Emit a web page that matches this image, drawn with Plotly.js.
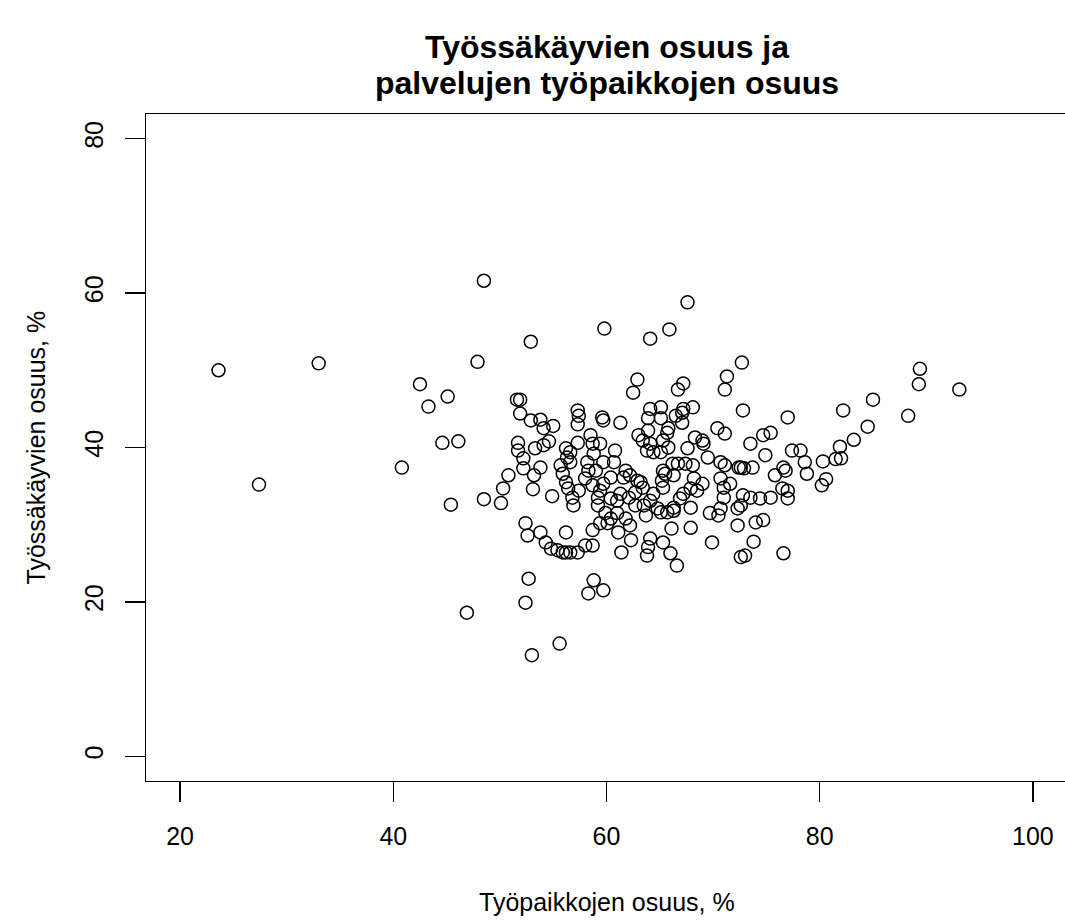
<!DOCTYPE html>
<html>
<head>
<meta charset="utf-8">
<script src="https://cdn.plot.ly/plotly-3.0.1.min.js"></script>
<style>
  html, body { margin: 0; padding: 0; background: #fff; overflow: hidden; }
  #chart { width: 1068px; height: 921px; }
</style>
</head>
<body>
<div id="chart"></div>
<script>
// Service-sector share of jobs (%) per municipality
const jobShare = [
  23.6, 27.4, 33.0, 40.8, 42.5, 43.3, 45.1, 44.6, 46.1, 45.4, 48.5, 47.9, 48.5, 46.9, 55.6, 53.0, 52.4, 52.7, 58.8, 58.3, 59.7,
  59.8, 52.9, 51.6, 51.9, 62.9, 62.5, 57.3, 67.6, 65.9, 64.1, 72.7, 71.3, 71.1, 67.2, 66.7, 64.1, 65.1, 67.2, 68.1, 72.8,
  89.4, 89.3, 93.1, 85.0, 82.2, 88.3, 84.5, 83.2, 81.9, 82.0, 81.5, 80.3, 80.6, 80.2,
  51.9, 52.9, 53.8, 54.1, 55.0, 57.4, 57.3, 59.6, 59.7, 51.7, 51.7, 52.2, 53.3, 54.1, 54.6, 57.3, 56.2, 56.6, 56.3, 55.7,
  56.6, 58.5, 58.7, 59.4, 58.8, 60.8, 58.2, 58.3, 59.0, 59.7, 60.7, 52.2, 53.2, 53.8, 50.8, 50.3, 53.1, 54.9, 55.9, 56.2,
  56.4, 57.4, 56.8, 58.0, 58.7, 59.4, 59.2, 59.7, 60.4, 60.4, 61.0, 50.1, 56.9, 59.2,
  61.3, 63.9, 65.1, 66.5, 67.1, 67.1, 63.9, 63.0, 63.4, 65.7, 65.8, 65.3, 64.1, 63.8, 64.4, 65.1, 65.8, 67.6, 68.3, 69.0,
  69.1, 70.4, 71.1, 69.5, 61.8, 61.6, 62.2, 62.9, 63.2, 63.4, 62.7, 62.1, 61.3, 64.1, 64.4, 65.3, 65.2, 65.5, 66.3, 65.3,
  66.2, 66.7, 67.4, 68.1, 68.2, 69.0, 67.9, 68.5, 67.2, 66.9, 70.7, 71.1, 72.4, 70.7, 71.0, 71.6, 71.0, 63.5, 64.8, 66.3,
  67.9, 62.7,
  77.0, 74.7, 75.4, 73.5, 74.9, 77.4, 78.2, 78.6, 72.6, 72.9, 73.7, 76.6, 76.8, 75.8, 78.8, 72.8, 73.5, 76.5, 77.0, 77.0,
  74.4, 75.4, 72.6,
  59.9, 60.4, 52.4, 52.6, 53.8, 56.2, 54.3, 54.8, 55.4, 55.9, 56.2, 56.6, 57.3, 58.0, 58.7, 58.7, 59.4, 60.1, 61.4,
  61.0, 61.8, 61.1, 62.2, 63.7, 65.1, 65.7, 66.3, 70.7, 69.7, 70.5, 72.3, 72.3, 67.9, 66.1, 62.3, 64.1, 63.9, 63.8, 65.3,
  66.0, 66.6, 69.9, 72.6,
  74.0, 74.7, 73.8, 73.0, 76.6
];

// Share of the population in employment (%) per municipality
const employedShare = [
  50.0, 35.2, 50.9, 37.4, 48.2, 45.3, 46.6, 40.6, 40.8, 32.6, 33.3, 51.1, 61.6, 18.6, 14.6, 13.1, 19.9, 23.0, 22.8, 21.1, 21.5,
  55.4, 53.7, 46.2, 46.2, 48.8, 47.1, 44.8, 58.8, 55.3, 54.1, 51.0, 49.2, 47.5, 48.3, 47.5, 45.0, 45.2, 45.0, 45.2, 44.8,
  50.2, 48.2, 47.5, 46.2, 44.8, 44.1, 42.7, 41.0, 40.1, 38.6, 38.5, 38.2, 35.9, 35.1,
  44.4, 43.5, 43.6, 42.5, 42.8, 44.1, 43.0, 43.9, 43.5, 40.6, 39.6, 38.6, 39.9, 40.3, 40.8, 40.6, 39.9, 39.4, 38.7, 37.7,
  38.1, 41.6, 40.5, 40.5, 39.2, 39.6, 38.1, 37.0, 37.0, 38.1, 38.1, 37.3, 36.4, 37.4, 36.4, 34.7, 34.6, 33.7, 36.6, 35.5,
  34.7, 34.4, 33.5, 36.0, 35.1, 34.4, 33.5, 35.3, 36.1, 33.4, 33.1, 32.8, 32.5, 32.5,
  43.2, 43.8, 43.8, 44.1, 44.5, 43.2, 42.2, 41.6, 40.9, 41.9, 42.5, 40.9, 40.5, 39.6, 39.4, 39.4, 40.0, 39.9, 41.3, 40.9,
  40.5, 42.5, 41.8, 38.7, 37.0, 36.1, 36.4, 35.7, 35.5, 34.8, 34.2, 33.5, 34.0, 33.1, 34.0, 34.8, 35.7, 36.6, 36.4, 37.0,
  37.9, 37.9, 37.9, 37.7, 36.0, 35.3, 34.7, 34.4, 34.0, 33.4, 38.1, 37.7, 37.4, 36.0, 34.8, 35.3, 33.5, 32.5, 32.1, 32.2,
  32.2, 32.5,
  43.9, 41.6, 41.9, 40.5, 39.0, 39.6, 39.6, 38.1, 37.4, 37.3, 37.4, 37.4, 37.0, 36.4, 36.6, 33.8, 33.5, 34.7, 34.4, 33.4,
  33.4, 33.5, 32.5,
  31.5, 30.8, 30.2, 28.6, 29.0, 29.0, 27.7, 26.9, 26.7, 26.4, 26.4, 26.4, 26.4, 27.3, 27.3, 29.3, 30.2, 30.2, 26.4,
  31.5, 30.8, 29.0, 29.9, 31.2, 31.6, 31.6, 31.8, 32.1, 31.5, 31.2, 32.1, 29.9, 29.6, 29.5, 28.0, 28.2, 27.1, 26.0, 27.7,
  26.3, 24.7, 27.7, 25.8,
  30.3, 30.6, 27.8, 26.0, 26.3
];

const xTicks = [20, 40, 60, 80, 100];
const yTicks = [0, 20, 40, 60, 80];

const titleLines = ['Työssäkäyvien osuus ja', 'palvelujen työpaikkojen osuus'];
const xLabel = 'Työpaikkojen osuus, %';
const yLabel = 'Työssäkäyvien osuus, %';

const FONT = 'Liberation Sans, Arial, Helvetica, sans-serif';
const TEXT_SIZE = 25;
const TITLE_SIZE = 32;

const trace = {
  type: 'scatter',
  mode: 'markers',
  x: jobShare,
  y: employedShare,
  marker: {
    symbol: 'circle-open',
    size: 13,
    color: '#000',
    line: { color: '#000', width: 1.5 }
  },
  hoverinfo: 'x+y'
};

const axisCommon = {
  showgrid: false,
  zeroline: false,
  showline: true,
  mirror: true,
  linecolor: '#000',
  linewidth: 1.3,
  ticks: 'outside',
  ticklen: 20,
  tickwidth: 1.3,
  tickcolor: '#000',
  tickfont: { family: FONT, size: TEXT_SIZE, color: '#000' },
  automargin: false
};

const layout = {
  width: 1068,
  height: 921,
  margin: { l: 146, r: 1, t: 114, b: 140 },
  paper_bgcolor: '#fff',
  plot_bgcolor: '#fff',
  showlegend: false,
  font: { family: FONT, color: '#000' },
  xaxis: Object.assign({}, axisCommon, {
    range: [16.8, 103.2],
    tickvals: xTicks,
    ticktext: xTicks.map(String),
    ticklabelstandoff: 13
  }),
  yaxis: Object.assign({}, axisCommon, {
    range: [-3.2, 83.2],
    tickvals: yTicks,
    ticktext: yTicks.map(String),
    tickangle: -90,
    ticklabelstandoff: 12
  }),
  annotations: [
    { text: '<b>' + titleLines[0] + '</b>', xref: 'paper', yref: 'paper', x: 0.5, y: 1, yshift: 67,
      showarrow: false, xanchor: 'center', yanchor: 'middle', font: { family: FONT, size: TITLE_SIZE, color: '#000' } },
    { text: '<b>' + titleLines[1] + '</b>', xref: 'paper', yref: 'paper', x: 0.5, y: 1, yshift: 31,
      showarrow: false, xanchor: 'center', yanchor: 'middle', font: { family: FONT, size: TITLE_SIZE, color: '#000' } },
    { text: xLabel, xref: 'paper', yref: 'paper', x: 0.5, y: 0, yshift: -121,
      showarrow: false, xanchor: 'center', yanchor: 'middle', font: { family: FONT, size: TEXT_SIZE, color: '#000' } },
    { text: yLabel, xref: 'paper', yref: 'paper', x: 0, y: 0.5, xshift: -111, textangle: -90,
      showarrow: false, xanchor: 'center', yanchor: 'middle', font: { family: FONT, size: TEXT_SIZE, color: '#000' } }
  ]
};

Plotly.newPlot('chart', [trace], layout, { displayModeBar: false, staticPlot: true });
</script>
</body>
</html>
